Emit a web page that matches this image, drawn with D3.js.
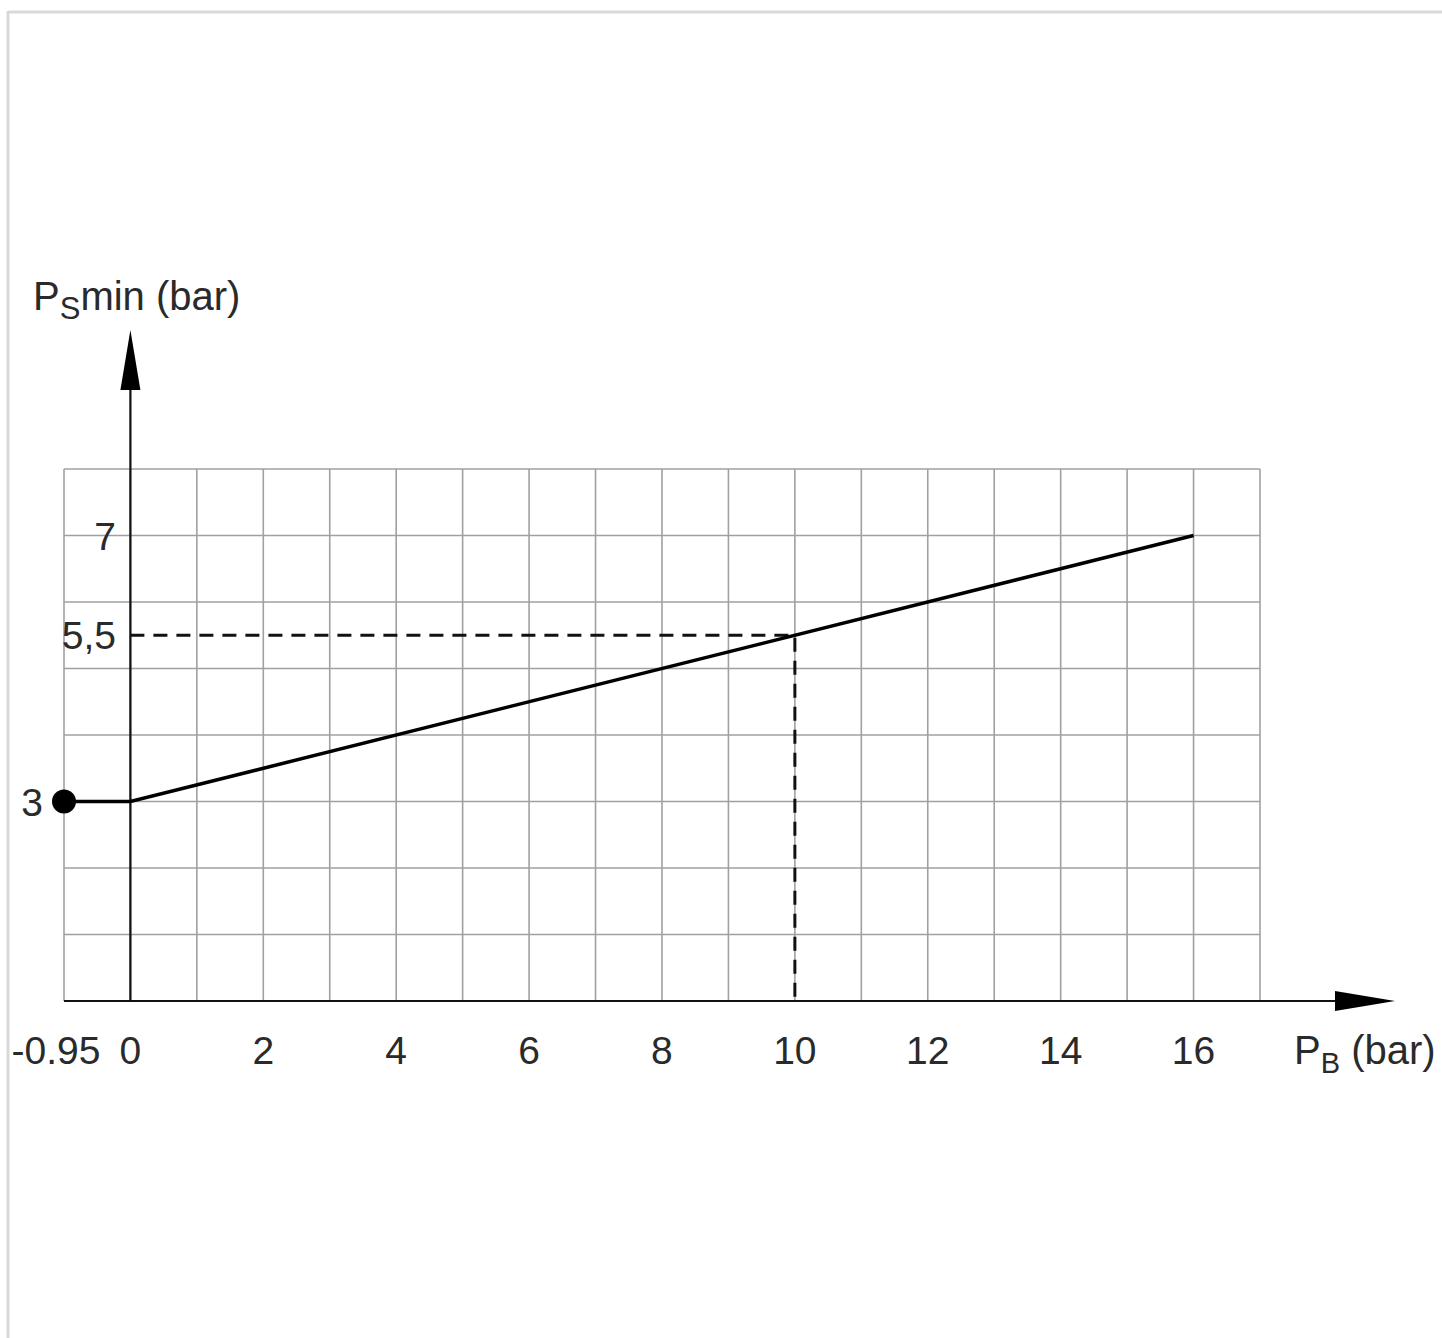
<!DOCTYPE html>
<html>
<head>
<meta charset="utf-8">
<script src="https://cdn.jsdelivr.net/npm/d3@7"></script>
<style>
  body { margin: 0; background: #fff; }
  svg { display: block; font-family: "Liberation Sans", Arial, sans-serif; }
</style>
</head>
<body>
<svg id="chart"></svg>
<script>
const curveX = [-0.95, 0, 16];
const curveY = [3, 3, 7];
const gridX = [-0.95, 0, 1, 2, 3, 4, 5, 6, 7, 8, 9, 10, 11, 12, 13, 14, 15, 16, 17];
const gridY = [0, 1, 2, 3, 4, 5, 6, 7, 8];
const xTicks = [-0.95, 0, 2, 4, 6, 8, 10, 12, 14, 16];
const yTicks = [3, 5.5, 7];
const markPoint = [10, 5.5];

const width = 1442, height = 1338;
const svg = d3.select("#chart").attr("width", width).attr("height", height);

// frame edges (left + top only)
svg.append("line").attr("x1", 8).attr("y1", 11).attr("x2", 8).attr("y2", height)
  .attr("stroke", "#d9d9d9").attr("stroke-width", 3);
svg.append("line").attr("x1", 8).attr("y1", 12).attr("x2", width).attr("y2", 12)
  .attr("stroke", "#d9d9d9").attr("stroke-width", 3);

const x = d3.scaleLinear().domain([-0.95, 0, 17]).range([64, 130.4, 1260]);
const y = d3.scaleLinear().domain([0, 8]).range([1001, 469]);

const g = svg.append("g");

// grid
g.selectAll(".gx").data(gridX).join("line")
  .attr("x1", d => x(d)).attr("x2", d => x(d))
  .attr("y1", y(0)).attr("y2", y(8))
  .attr("stroke", "#a0a0a0").attr("stroke-width", 1.6);
g.selectAll(".gy").data(gridY).join("line")
  .attr("x1", x(-0.95)).attr("x2", x(17))
  .attr("y1", d => y(d)).attr("y2", d => y(d))
  .attr("stroke", "#a0a0a0").attr("stroke-width", 1.6);

// dashed guides
g.append("path")
  .attr("d", `M${x(0)},${y(markPoint[1])}H${x(markPoint[0])}V${y(0)}`)
  .attr("fill", "none").attr("stroke", "#111").attr("stroke-width", 3)
  .attr("stroke-dasharray", "14,9");

// axes with arrows
const xEnd = 1395, yEnd = 330;
g.append("line").attr("x1", x(-0.95)).attr("x2", xEnd - 40).attr("y1", y(0)).attr("y2", y(0))
  .attr("stroke", "#111").attr("stroke-width", 2.2);
g.append("path")
  .attr("d", `M${xEnd},${y(0)}L${xEnd - 60},${y(0) - 10}L${xEnd - 60},${y(0) + 10}Z`)
  .attr("fill", "#000");
g.append("line").attr("x1", x(0)).attr("x2", x(0)).attr("y1", y(0)).attr("y2", yEnd + 40)
  .attr("stroke", "#111").attr("stroke-width", 2.2);
g.append("path")
  .attr("d", `M${x(0)},${yEnd}L${x(0) - 10},${yEnd + 60}L${x(0) + 10},${yEnd + 60}Z`)
  .attr("fill", "#000");

// curve
const pts = curveX.map((d, i) => [d, curveY[i]]);
g.append("path")
  .attr("d", d3.line().x(d => x(d[0])).y(d => y(d[1]))(pts))
  .attr("fill", "none").attr("stroke", "#000").attr("stroke-width", 3.5);
g.append("circle").attr("cx", x(curveX[0])).attr("cy", y(curveY[0])).attr("r", 12)
  .attr("fill", "#000");

// tick labels
const fs = 39;
g.selectAll(".xt").data(xTicks).join("text")
  .attr("x", d => d === -0.95 ? 56 : x(d))
  .attr("y", 1064)
  .attr("text-anchor", "middle")
  .attr("font-size", fs).attr("fill", "#2a2a2a")
  .text(d => String(d));
g.selectAll(".yt").data(yTicks).join("text")
  .attr("x", d => d === 3 ? 43 : 116)
  .attr("y", d => y(d) + 14)
  .attr("text-anchor", "end")
  .attr("font-size", fs).attr("fill", "#2a2a2a")
  .text(d => String(d).replace(".", ","));

// axis titles
const yTitle = g.append("text").attr("x", 33).attr("y", 310)
  .attr("font-size", 40).attr("fill", "#2a2a2a");
yTitle.append("tspan").text("P");
yTitle.append("tspan").attr("dy", 9).attr("font-size", 31).text("S");
yTitle.append("tspan").attr("dy", -9).text("min (bar)");

const xTitle = g.append("text").attr("x", 1294).attr("y", 1064)
  .attr("font-size", 40).attr("fill", "#2a2a2a");
xTitle.append("tspan").text("P");
xTitle.append("tspan").attr("dy", 9).attr("font-size", 29).text("B");
xTitle.append("tspan").attr("dy", -9).text(" (bar)");
</script>
</body>
</html>
